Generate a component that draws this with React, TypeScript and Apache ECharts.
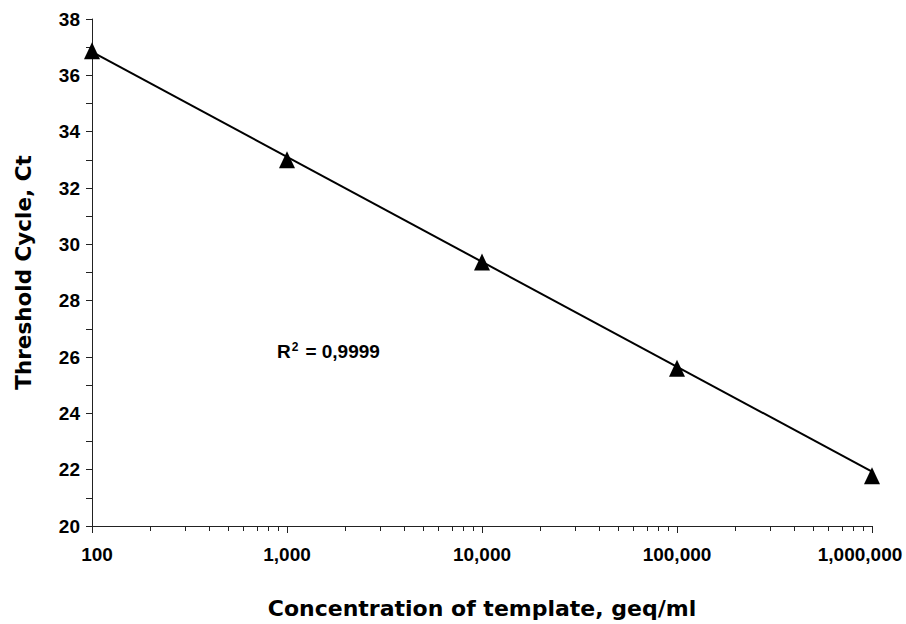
import React, { useEffect, useRef } from "react";
import * as echarts from "echarts";

const concentrations = [100, 1000, 10000, 100000, 1000000];
const thresholdCycles = [36.87, 33.0, 29.37, 25.6, 21.78];
const trendX = [100, 1000000];
const trendY = [36.83, 21.93];
const minorTickValues = [
  200, 300, 400, 500, 600, 700, 800, 900,
  2000, 3000, 4000, 5000, 6000, 7000, 8000, 9000,
  20000, 30000, 40000, 50000, 60000, 70000, 80000, 90000,
  200000, 300000, 400000, 500000, 600000, 700000, 800000, 900000,
];
const yTicks = [20, 22, 24, 26, 28, 30, 32, 34, 36, 38];

const FONT = "'Liberation Sans', Arial, sans-serif";
const TITLE_FONT = "'DejaVu Sans', 'Liberation Sans', sans-serif";

const labelStyle = { fontFamily: FONT, fontWeight: "bold" as const, fontSize: 19, color: "#000" };

export default function App() {
  const ref = useRef<HTMLDivElement>(null);
  useEffect(() => {
    if (!ref.current) return;
    const chart = echarts.init(ref.current, null, { renderer: "svg" });
    chart.setOption({
      animation: false,
      backgroundColor: "#ffffff",
      grid: { left: 92, right: 34, top: 19, bottom: 96, containLabel: false },
      xAxis: [
        {
          type: "log",
          logBase: 10,
          min: 100,
          max: 1000000,
          name: "Concentration of template, geq/ml",
          nameLocation: "middle",
          nameGap: 71,
          nameTextStyle: { fontFamily: TITLE_FONT, fontWeight: "bold", fontSize: 22, color: "#000" },
          axisLine: { show: true, lineStyle: { color: "#222", width: 1 } },
          axisTick: { show: true, length: 7, lineStyle: { color: "#222" } },
          axisLabel: {
            margin: 19,
            ...labelStyle,
            formatter: (v: number) => {
              const s = Math.round(v).toLocaleString("en-US");
              if (Math.round(v) === concentrations[0]) return `{first|${s}}`;
              if (Math.round(v) === concentrations[concentrations.length - 1]) return `{last|${s}}`;
              return s;
            },
            rich: {
              first: { ...labelStyle, padding: [0, 0, 0, 10] },
              last: { ...labelStyle, padding: [0, 24, 0, 0] },
            },
          },
          splitLine: { show: false },
          minorTick: { show: false },
        },
        {
          type: "value",
          position: "bottom",
          min: Math.log10(100),
          max: Math.log10(1000000),
          axisLine: { show: false },
          axisTick: {
            show: true,
            length: 5,
            customValues: minorTickValues.map((v) => Math.log10(v)),
            lineStyle: { color: "#222" },
          },
          axisLabel: { show: false },
          splitLine: { show: false },
        },
      ],
      yAxis: {
        type: "value",
        min: 20,
        max: 38,
        interval: 1,
        name: "Threshold Cycle, Ct",
        nameLocation: "middle",
        nameGap: 58,
        nameTextStyle: { fontFamily: TITLE_FONT, fontWeight: "bold", fontSize: 21.5, color: "#000" },
        axisLine: { show: true, lineStyle: { color: "#222", width: 1 } },
        axisTick: { show: true, length: 6, lineStyle: { color: "#222" } },
        axisLabel: {
          margin: 12,
          ...labelStyle,
          formatter: (v: number) => (yTicks.includes(v) ? String(v) : ""),
        },
        splitLine: { show: false },
      },
      graphic: [
        {
          type: "text",
          left: 277,
          top: 341,
          style: {
            text: "{b|R}{s|2}{b|= 0,9999}",
            rich: {
              b: { fontFamily: FONT, fontWeight: "bold", fontSize: 19, fill: "#000" },
              s: { fontFamily: FONT, fontWeight: "bold", fontSize: 12, fill: "#000", verticalAlign: "top", padding: [0, 7, 9, 1] },
            },
          },
        },
      ],
      series: [
        {
          type: "line",
          xAxisIndex: 0,
          data: trendX.map((x, i) => [x, trendY[i]]),
          showSymbol: false,
          symbol: "none",
          lineStyle: { color: "#000", width: 2 },
          z: 2,
        },
        {
          type: "scatter",
          xAxisIndex: 0,
          data: concentrations.map((x, i) => [x, thresholdCycles[i]]),
          symbol: "triangle",
          symbolSize: [16, 17],
          itemStyle: { color: "#000", opacity: 1 },
          z: 3,
        },
      ],
    });
    return () => chart.dispose();
  }, []);
  return (
    <div
      ref={ref}
      style={{ position: "absolute", left: 0, top: 0, width: 906, height: 624 }}
    />
  );
}
